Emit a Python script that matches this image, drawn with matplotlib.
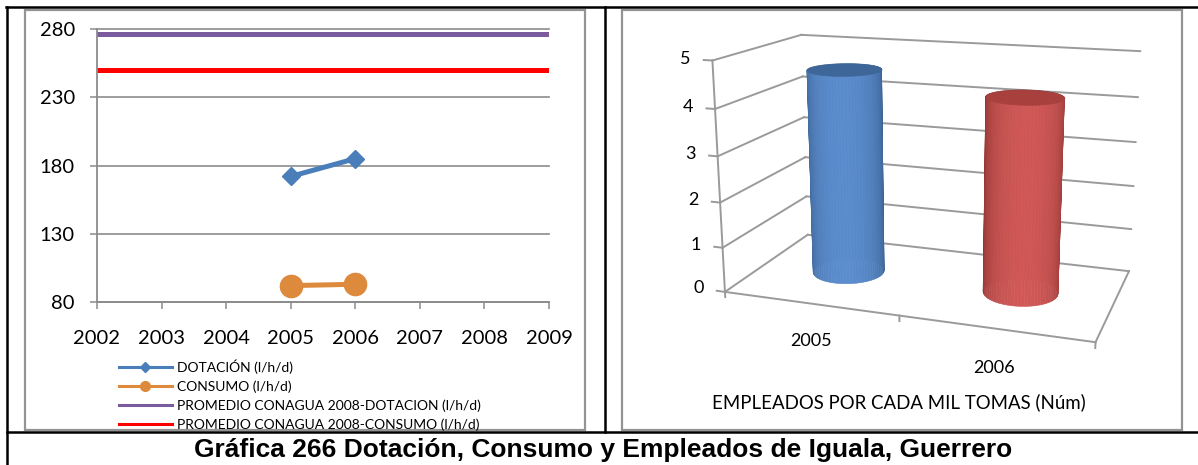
import numpy as np
import matplotlib
matplotlib.use("Agg")
import matplotlib.pyplot as plt
from matplotlib.lines import Line2D
from matplotlib.patches import Rectangle
from mpl_toolkits.mplot3d.art3d import Poly3DCollection

# ---- data ----
years = [2002, 2003, 2004, 2005, 2006, 2007, 2008, 2009]
dot_years = [2005, 2006]
dotacion = [172, 185]
consumo = [92, 93]
promedio_dotacion = [276, 276, 276, 276, 276, 276, 276, 276]
promedio_consumo = [250, 250, 250, 250, 250, 250, 250, 250]
y_ticks = [80, 130, 180, 230, 280]

emp_labels = ["2005", "2006"]
empleados = [4.6, 4.25]
emp_ticks = [0, 1, 2, 3, 4, 5]

legend_labels = ["DOTACIÓN (l/h/d)", "CONSUMO (l/h/d)",
                 "PROMEDIO CONAGUA 2008-DOTACION (l/h/d)",
                 "PROMEDIO CONAGUA 2008-CONSUMO (l/h/d)"]
caption = "Gráfica 266 Dotación, Consumo y Empleados de Iguala, Guerrero"
emp_title = "EMPLEADOS POR CADA MIL TOMAS (Núm)"

BLUE, ORANGE, PURPLE, RED = "#4A7EBB", "#DD8A3D", "#7A5C9E", "#FF0000"
GRID = "#8C8C8C"
FONT = "Lato"

W, H = 1198, 465
fig = plt.figure(figsize=(W / 100, H / 100), dpi=100)


def fx(x):
    return x / W


def fy(y):
    return 1 - y / H


# ---- table borders and chart frames ----
def fig_line(x0, y0, x1, y1, **kw):
    fig.add_artist(Line2D([fx(x0), fx(x1)], [fy(y0), fy(y1)],
                          transform=fig.transFigure, **kw))


fig_line(6, 7, 1198, 7, color="k", lw=1.8)
fig_line(7, 7, 7, 465, color="k", lw=1.8)
fig_line(605, 7, 605, 432, color="k", lw=1.8)
fig_line(7, 432, 1198, 432, color="k", lw=1.8)
for x0, x1 in [(25, 585), (622, 1182)]:
    fig.add_artist(Rectangle((fx(x0), fy(430)), (x1 - x0) / W, (430 - 10) / H,
                             transform=fig.transFigure, fill=False,
                             ec="#939393", lw=1.6))

fig.text(fx(603), fy(450), caption, ha="center", va="center",
         fontsize=19, fontweight="bold", family="Liberation Sans")

# ---- left chart: line chart ----
ax = fig.add_axes([fx(97), fy(302), (549 - 97) / W, (302 - 29) / H])
ax.plot(years, promedio_dotacion, color=PURPLE, lw=3.6, solid_capstyle="round")
ax.plot(years, promedio_consumo, color=RED, lw=3.6, solid_capstyle="round")
ax.plot(dot_years, dotacion, color=BLUE, lw=3.6, marker="D", ms=9)
ax.plot(dot_years, consumo, color=ORANGE, lw=3.6, marker="o", ms=16)
ax.set_xlim(2002, 2009)
ax.set_ylim(80, 280)
ax.set_xticks(years)
ax.set_yticks(y_ticks)
ax.grid(axis="y", color=GRID, lw=1.2)
for gl in ax.get_ygridlines():
    gl.set_clip_on(False)
ax.set_axisbelow(True)
for s in ["top", "right"]:
    ax.spines[s].set_visible(False)
for s in ["left", "bottom"]:
    ax.spines[s].set_color(GRID)
    ax.spines[s].set_linewidth(1.3)
ax.tick_params(axis="both", colors=GRID, length=5, width=1.1, labelcolor="k",
               labelsize=14.5)
ax.tick_params(axis="y", pad=11)
ax.tick_params(axis="x", pad=15)
for t in ax.get_xticklabels() + ax.get_yticklabels():
    t.set_family(FONT)

handles = [Line2D([], [], color=BLUE, lw=2.2, marker="D", ms=5),
           Line2D([], [], color=ORANGE, lw=2.2, marker="o", ms=7),
           Line2D([], [], color=PURPLE, lw=2.2),
           Line2D([], [], color=RED, lw=2.2)]
fig.legend(handles, legend_labels, loc="upper left",
           bbox_to_anchor=(fx(119), fy(359)), frameon=False,
           prop={"family": FONT, "size": 10}, handlelength=3.8,
           handletextpad=0.4, labelspacing=0.47, borderpad=0, borderaxespad=0)

# ---- right chart: 3D cylinders ----
side_px = 466
cx_px, cy_px = 926, 178
ax3 = fig.add_axes([fx(cx_px - side_px / 2), fy(cy_px + side_px / 2),
                    side_px / W, side_px / H],
                   projection="3d", computed_zorder=False)
ax3.patch.set_visible(False)
azim, elev = -71, 15
ax3.view_init(elev=elev, azim=azim)
ax3.set_proj_type("persp", focal_length=0.42)
box = (1.6, 0.82, 1.0)
ax3.set_box_aspect(box, zoom=1.0)
x0, x1 = 0.5, len(empleados) + 0.5
ax3.set_xlim(x0, x1)
ax3.set_ylim(0, 1)
ax3.set_zlim(0, 5)
ax3.set_xticks([])
ax3.set_yticks([])
ax3.set_zticks([])
ax3.set_axis_off()

gk = dict(color="#9A9A9A", lw=1.4)
for z in emp_ticks:
    ax3.plot([x0, x1], [1, 1], [z, z], zorder=1, **gk)
    ax3.plot([x0, x0], [0, 1], [z, z], zorder=1, **gk)
    ax3.plot([x0, x0 - 0.05], [0, 0], [z, z], zorder=1, **gk)
    ax3.text(x0 - 0.16, 0, z, str(z), ha="center", va="center",
             fontsize=13, family=FONT)
ax3.plot([x0, x0], [0, 0], [0, 5], zorder=1, **gk)
ax3.plot([x0, x1], [0, 0], [0, 0], zorder=1, **gk)
ax3.plot([x1, x1], [0, 1], [0, 0], zorder=1, **gk)
for xt in [x0, 1.5, x1]:
    ax3.plot([xt, xt], [0, 0], [0, -0.12], zorder=1, **gk)

cyl = [("#39608F", "#5B8CCD", "#3E6699"), ("#8E3431", "#D05957", "#A8413E")]
rx = 0.2
ry = rx * (box[0] / (x1 - x0)) / box[1]
th = np.linspace(0, 2 * np.pi, 73)
face = np.cos(th - np.radians(azim))
for i, (v, (edge, mid, cap)) in enumerate(zip(empleados, cyl)):
    cx, cy = i + 1, 0.5
    xs, ys = cx + rx * np.cos(th), cy + ry * np.sin(th)
    verts, cols = [], []
    e, m = np.array(matplotlib.colors.to_rgb(edge)), np.array(matplotlib.colors.to_rgb(mid))
    for k in range(len(th) - 1):
        verts.append([(xs[k], ys[k], 0), (xs[k + 1], ys[k + 1], 0),
                      (xs[k + 1], ys[k + 1], v), (xs[k], ys[k], v)])
        f = np.clip((face[k] + face[k + 1]) / 2, 0, 1) ** 0.8
        cols.append(e + (m - e) * f)
    side = Poly3DCollection(verts, facecolors=cols, edgecolors=cols,
                            linewidths=0.4, zorder=2)
    ax3.add_collection3d(side)
    top = Poly3DCollection([list(zip(xs, ys, np.full_like(xs, v)))],
                           facecolors=cap, edgecolors=cap, linewidths=0.4, zorder=3)
    ax3.add_collection3d(top)
    ax3.text(cx, 0, -0.85, emp_labels[i], ha="center", va="center",
             fontsize=13, family=FONT)

fig.text(fx(899), fy(402), emp_title, ha="center", va="center",
         fontsize=13.4, family=FONT)

fig.savefig("out.png", dpi=100)
